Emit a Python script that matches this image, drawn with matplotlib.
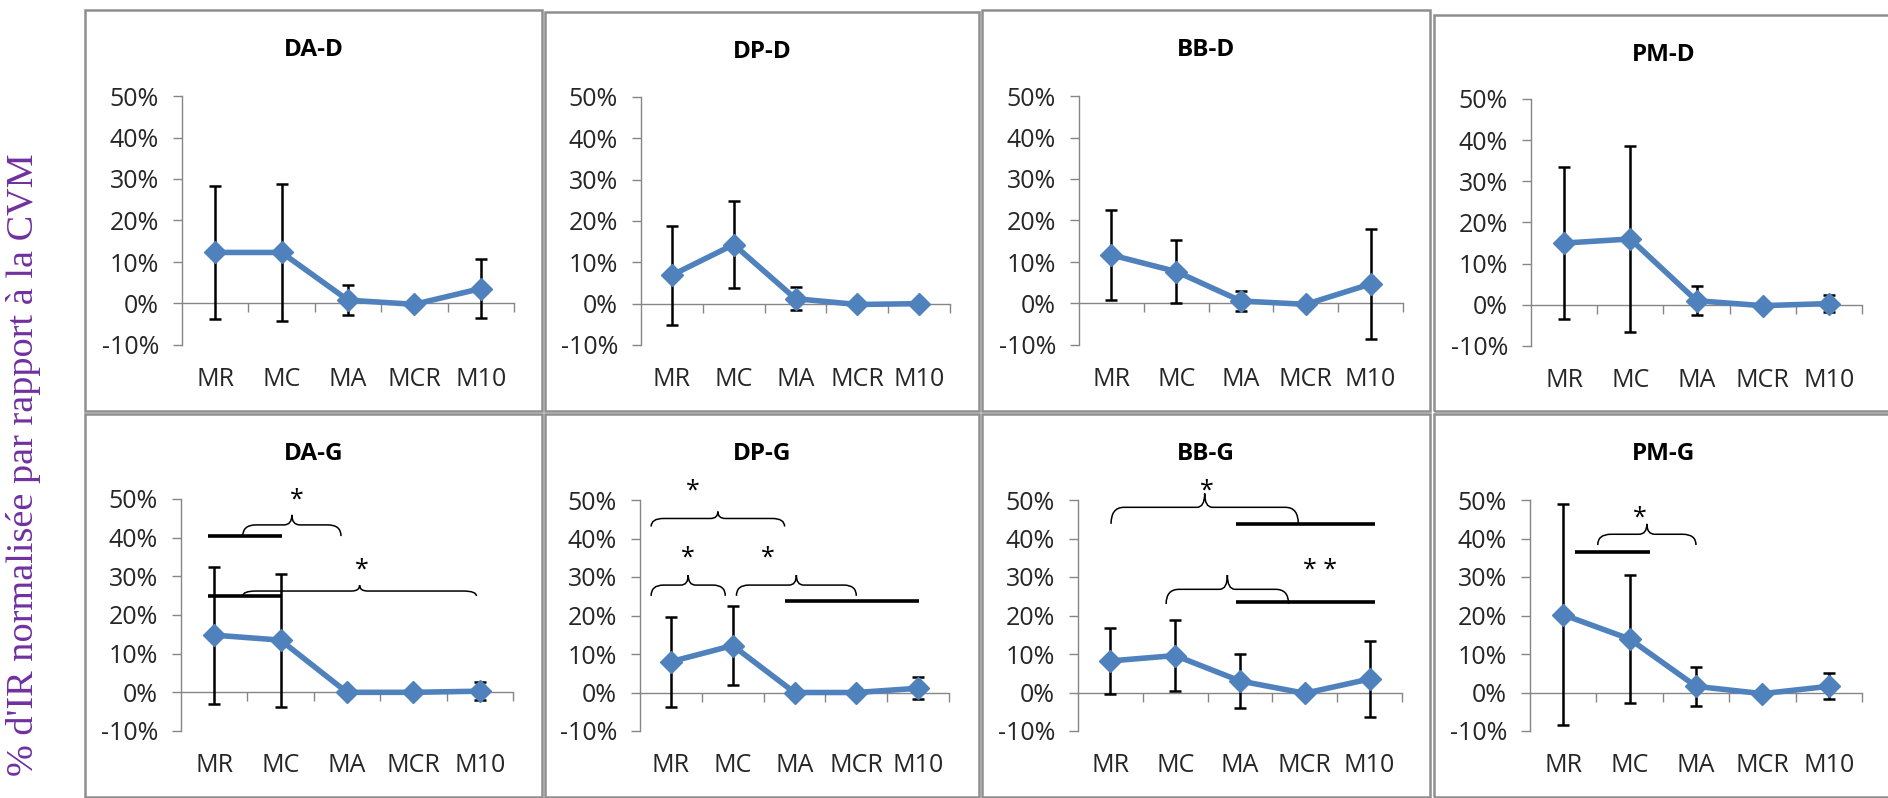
import numpy as np
import matplotlib.pyplot as plt
import matplotlib.ticker as ticker
from matplotlib.patches import Rectangle, PathPatch
from matplotlib.path import Path

plt.rcParams['font.family'] = ['Open Sans', 'DejaVu Sans']

categories = ['MR', 'MC', 'MA', 'MCR', 'M10']
titles_top = ['DA-D', 'DP-D', 'BB-D', 'PM-D']
titles_bot = ['DA-G', 'DP-G', 'BB-G', 'PM-G']
ylabel = "% d'IR normalisée par rapport à la CVM"

# mean values (%) and error (+/- %)
da_d = [12.3, 12.3, 0.8, -0.2, 3.6]
da_d_err = [16.0, 16.5, 3.6, 0.0, 7.2]
dp_d = [6.9, 14.3, 1.2, -0.2, 0.0]
dp_d_err = [12.0, 10.5, 2.8, 0.0, 0.0]
bb_d = [11.7, 7.7, 0.6, -0.2, 4.7]
bb_d_err = [10.9, 7.7, 2.5, 0.0, 13.3]
pm_d = [15.0, 16.0, 1.0, -0.2, 0.3]
pm_d_err = [18.5, 22.6, 3.5, 0.0, 2.0]

da_g = [14.8, 13.5, 0.0, 0.0, 0.3]
da_g_err = [17.7, 17.2, 0.0, 0.0, 2.4]
dp_g = [8.0, 12.2, 0.0, 0.0, 1.1]
dp_g_err = [11.7, 10.3, 0.0, 0.0, 2.9]
bb_g = [8.2, 9.6, 3.0, -0.2, 3.5]
bb_g_err = [8.5, 9.2, 7.1, 0.0, 9.8]
pm_g = [20.2, 13.9, 1.6, -0.3, 1.6]
pm_g_err = [28.7, 16.5, 5.1, 0.0, 3.4]

series = {'DA-D': (da_d, da_d_err), 'DP-D': (dp_d, dp_d_err),
          'BB-D': (bb_d, bb_d_err), 'PM-D': (pm_d, pm_d_err),
          'DA-G': (da_g, da_g_err), 'DP-G': (dp_g, dp_g_err),
          'BB-G': (bb_g, bb_g_err), 'PM-G': (pm_g, pm_g_err)}

# significance marks: bars (x0, x1, y), braces (x0, x1, y_end, y_body, y_tip), stars (x, y, text)
sig_bars = {'DA-G': [(-0.1, 1.02, 40.5), (-0.1, 1.02, 24.9)],
            'DP-G': [(1.84, 4.02, 23.7)],
            'BB-G': [(1.94, 4.09, 43.7), (1.94, 4.09, 23.6)],
            'PM-G': [(0.18, 1.30, 36.4)]}
sig_braces = {'DA-G': [(0.43, 1.91, 40.4, 43.3, 45.9), (0.43, 3.95, 24.9, 26.2, 27.7)],
              'DP-G': [(-0.32, 1.84, 43.1, 45.2, 47.0), (-0.32, 0.88, 25.1, 27.9, 30.5),
                       (1.06, 3.0, 25.1, 27.9, 30.5)],
              'BB-G': [(0.01, 2.90, 43.8, 48.1, 51.7), (0.86, 2.75, 23.0, 26.8, 30.5)],
              'PM-G': [(0.52, 2.0, 38.3, 41.1, 43.8)]}
sig_stars = {'DA-G': [(1.25, 51.0, '*'), (2.22, 32.9, '*')],
             'DP-G': [(0.36, 53.6, '*'), (0.28, 36.3, '*'), (1.57, 36.3, '*')],
             'BB-G': [(1.48, 53.6, '*'), (3.24, 33.1, '* *')],
             'PM-G': [(1.16, 46.5, '*')]}

W, H = 1888, 798
fig = plt.figure(figsize=(W / 100, H / 100), dpi=100)


def fx(px):
    return px / W


def fy(py):
    return 1 - py / H


# panel frames (left, top, right, bottom) and plot areas (left, top, right, bottom) in pixels
frames = [(85, 10, 542, 411), (545, 12, 979, 411), (982, 10, 1430, 411), (1434, 15, 1893, 411),
          (85, 414, 542, 797), (545, 414, 979, 797), (982, 414, 1430, 797), (1434, 414, 1893, 797)]
areas = [(182, 96, 514, 345), (641, 97, 950, 345), (1079, 96, 1403, 345), (1531, 99, 1862, 346),
         (181, 499, 513, 731), (640, 500, 949, 731), (1078, 500, 1402, 731), (1530, 500, 1862, 731)]


def brace(ax, x0, x1, ye, yb, yt):
    xm = (x0 + x1) / 2
    re, rm = 0.2, 0.12
    verts = [(x0, ye), (x0, yb), (x0 + re, yb), (xm - rm, yb), (xm, yb), (xm, yt),
             (xm, yb), (xm + rm, yb), (x1 - re, yb), (x1, yb), (x1, ye)]
    codes = [Path.MOVETO, Path.CURVE3, Path.CURVE3, Path.LINETO, Path.CURVE3, Path.CURVE3,
             Path.CURVE3, Path.CURVE3, Path.LINETO, Path.CURVE3, Path.CURVE3]
    ax.add_patch(PathPatch(Path(verts, codes), fill=False, ec='black', lw=1.1,
                           clip_on=False, zorder=5))


gray = '#868686'
x = np.arange(len(categories))
titles = titles_top + titles_bot

for k, title in enumerate(titles):
    l, t, r, b = frames[k]
    fig.add_artist(Rectangle((fx(l), fy(b)), fx(r) - fx(l), fy(t) - fy(b),
                             transform=fig.transFigure, fill=False, ec='#8e8e8e', lw=1.8))
    fig.text(fx((l + r) / 2), fy(t + 40), title, ha='center', va='center',
             fontsize=17.5, weight='bold', color='black')

    l, t, r, b = areas[k]
    ax = fig.add_axes([fx(l), fy(b), fx(r) - fx(l), fy(t) - fy(b)])
    ax.patch.set_alpha(0)
    ax.set_xlim(-0.5, 4.5)
    ax.set_ylim(-10, 50)
    for s in ['top', 'right']:
        ax.spines[s].set_visible(False)
    ax.spines['bottom'].set_position(('data', 0))
    for s in ['left', 'bottom']:
        ax.spines[s].set_color(gray)
        ax.spines[s].set_linewidth(1.0)

    ax.set_yticks(range(-10, 51, 10))
    ax.yaxis.set_major_formatter(ticker.FormatStrFormatter('%d%%'))
    ax.tick_params(axis='y', length=6.5, width=1, color=gray, pad=10,
                   labelsize=18, labelcolor='#262626')
    ax.set_xticks([0.5, 1.5, 2.5, 3.5, 4.5])
    ax.set_xticklabels([])
    ax.tick_params(axis='x', length=6.5, width=1, color=gray)
    for i, c in enumerate(categories):
        ax.annotate(c, xy=(i, 0), xycoords=('data', 'axes fraction'), xytext=(0, -35),
                    textcoords='offset pixels', ha='center', va='center',
                    fontsize=18, color='#262626')

    vals, errs = series[title]
    ax.errorbar(x, vals, yerr=errs, fmt='none', ecolor='black', elinewidth=1.8,
                capsize=4.5, capthick=1.8, zorder=3, clip_on=False)
    ax.plot(x, vals, color='#4F81BD', lw=4, marker='D', ms=11, zorder=4, clip_on=False)

    for x0, x1, yy in sig_bars.get(title, []):
        ax.plot([x0, x1], [yy, yy], color='black', lw=2.6, solid_capstyle='butt',
                clip_on=False, zorder=5)
    for br in sig_braces.get(title, []):
        brace(ax, *br)
    for sx, sy, txt in sig_stars.get(title, []):
        ax.annotate(txt, xy=(sx, sy), xytext=(0, -5), textcoords='offset pixels',
                    ha='center', va='center', fontsize=18, color='black',
                    annotation_clip=False)

fig.text(fx(24), fy(465), ylabel, rotation=90, ha='center', va='center',
         fontsize=27.5, color='#7030A0', family=['Liberation Serif', 'DejaVu Serif'])

fig.savefig('out.png', dpi=100)
